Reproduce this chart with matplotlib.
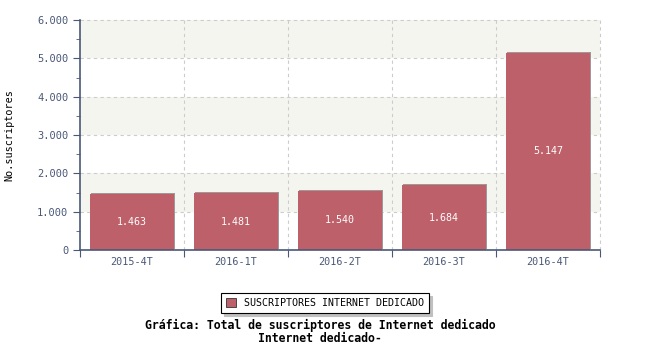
import numpy as np
import matplotlib.pyplot as plt
from matplotlib.ticker import FuncFormatter, MultipleLocator, FixedLocator
import matplotlib.patheffects as pe

# data
periods = ["2015-4T", "2016-1T", "2016-2T", "2016-3T", "2016-4T"]
subscribers = [1463, 1481, 1540, 1684, 5147]
series_name = "SUSCRIPTORES INTERNET DEDICADO"

bar_color = "#be606a"
axis_color = "#4a5878"
band_color = "#f5f5f0"
grid_color = "#cccccc"

plt.rcParams['font.family'] = ['DejaVu Sans Mono']

fig = plt.figure(figsize=(6.5, 3.5), dpi=100)
ax = fig.add_axes([80/650, 100/350, 520/650, 230/350])

x = np.arange(len(periods))
ax.set_xlim(-0.5, len(periods) - 0.5)
ax.set_ylim(0, 6000)

# alternating background bands
for lo in range(1000, 6000, 2000):
    ax.axhspan(lo, lo + 1000, color=band_color, zorder=0, lw=0)

# grid
for yv in range(1000, 7000, 1000):
    ax.axhline(yv, color=grid_color, lw=0.8, ls=(0, (3, 3)), zorder=1, clip_on=False)
for xv in np.arange(0.5, len(periods) + 0.5, 1):
    ax.axvline(xv, color=grid_color, lw=0.8, ls=(0, (3, 3)), zorder=1, clip_on=False)

bars = ax.bar(x, subscribers, width=0.81, color=bar_color, zorder=3,
              label=series_name,
              path_effects=[pe.SimplePatchShadow(offset=(0.8, 0.8), shadow_rgbFace="#a09898", alpha=1), pe.Normal()])

for xi, v in zip(x, subscribers):
    ax.text(xi, v / 2, f"{v:,}".replace(",", "."), ha="center", va="center",
            color="white", fontsize=7.2, zorder=4)

# axes styling
for s in ["top", "right"]:
    ax.spines[s].set_visible(False)
for s in ["left", "bottom"]:
    ax.spines[s].set_color(axis_color)
    ax.spines[s].set_linewidth(1.2)
    ax.spines[s].set_zorder(5)

ax.yaxis.set_major_locator(MultipleLocator(1000))
ax.yaxis.set_minor_locator(MultipleLocator(500))
ax.yaxis.set_major_formatter(FuncFormatter(lambda v, p: f"{int(v):,}".replace(",", ".")))
ax.tick_params(axis="y", which="major", length=5, color=axis_color, labelcolor=axis_color, labelsize=7.5)
ax.tick_params(axis="y", which="minor", length=3, color=axis_color)

ax.xaxis.set_major_locator(FixedLocator(np.arange(-0.5, len(periods), 1)))
ax.xaxis.set_minor_locator(FixedLocator(x))
ax.set_xticklabels([], minor=False)
ax.set_xticklabels(periods, minor=True)
ax.tick_params(axis="x", which="major", length=5, color=axis_color)
ax.tick_params(axis="x", which="minor", length=0, labelcolor=axis_color, labelsize=7.3, pad=5)

ax.set_ylabel("No.suscriptores", fontsize=7.3, labelpad=16)

leg = fig.legend(handles=[bars], labels=[series_name], loc="center",
                 bbox_to_anchor=(325/650, 1 - 303/350), fontsize=7.2,
                 fancybox=False, shadow={"color": "#c0c0c0", "alpha": 1}, edgecolor="black",
                 handlelength=1.0, handleheight=1.0, borderpad=0.5)
leg.get_frame().set_linewidth(0.8)
for h in leg.legend_handles:
    h.set_edgecolor("#333333")
    h.set_linewidth(0.6)
    h.set_path_effects([])

fig.text(320/650, 1 - 325/350, "Gráfica: Total de suscriptores de Internet dedicado",
         ha="center", va="center", fontsize=8.3, fontweight="bold")
fig.text(320/650, 1 - 339/350, "Internet dedicado-",
         ha="center", va="center", fontsize=8.3, fontweight="bold")

fig.savefig("out.png", dpi=100)
